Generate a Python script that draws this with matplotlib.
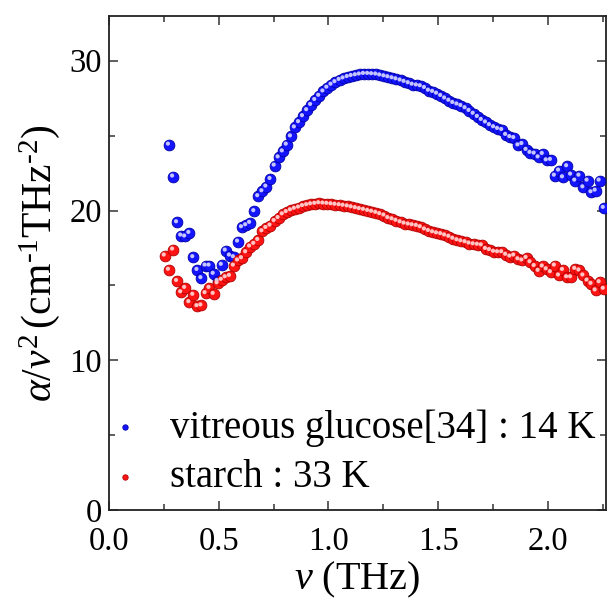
import matplotlib
matplotlib.use("Agg")
import matplotlib.pyplot as plt
import matplotlib.transforms as mtransforms
from matplotlib.ticker import MultipleLocator, FormatStrFormatter

plt.rcParams['font.family'] = ['Liberation Serif', 'DejaVu Serif']
plt.rcParams['mathtext.fontset'] = 'custom'
plt.rcParams['mathtext.rm'] = 'Liberation Serif'
plt.rcParams['mathtext.it'] = 'Liberation Serif:italic'
plt.rcParams['mathtext.bf'] = 'Liberation Serif:bold'

# ---------------- data ----------------
freq_starch = [
    0.254, 0.273, 0.292, 0.310, 0.329, 0.347, 0.366, 0.384, 0.403, 0.421,
    0.440, 0.458, 0.477, 0.495, 0.514, 0.532, 0.551, 0.569, 0.588, 0.606,
    0.625, 0.643, 0.662, 0.680, 0.699, 0.717, 0.736, 0.755, 0.773, 0.792,
    0.810, 0.829, 0.847, 0.866, 0.884, 0.903, 0.921, 0.940, 0.958, 0.977,
    0.995, 1.014, 1.032, 1.051, 1.069, 1.088, 1.106, 1.125, 1.143, 1.162,
    1.181, 1.199, 1.218, 1.236, 1.255, 1.273, 1.292, 1.310, 1.329, 1.347,
    1.366, 1.384, 1.403, 1.421, 1.440, 1.458, 1.477, 1.495, 1.514, 1.532,
    1.551, 1.569, 1.588, 1.606, 1.625, 1.643, 1.662, 1.681, 1.699, 1.718,
    1.736, 1.755, 1.773, 1.792, 1.810, 1.829, 1.847, 1.866, 1.884, 1.903,
    1.921, 1.940, 1.958, 1.977, 1.995, 2.014, 2.032, 2.051, 2.069, 2.088,
    2.106, 2.125, 2.144, 2.162, 2.181, 2.199, 2.218, 2.236, 2.255,
]
alpha_starch = [
    17.00, 16.05, 17.40, 15.30, 14.55, 14.84, 13.89, 14.38, 13.62, 13.67,
    14.49, 14.84, 14.44, 15.15, 15.38, 15.55, 15.64, 16.33, 16.67, 16.82,
    17.22, 17.60, 17.78, 18.04, 18.62, 18.84, 19.00, 19.30, 19.50, 19.75,
    19.90, 20.02, 20.12, 20.20, 20.30, 20.36, 20.42, 20.45, 20.49, 20.47,
    20.45, 20.42, 20.39, 20.36, 20.32, 20.28, 20.22, 20.16, 20.10, 20.05,
    19.98, 19.92, 19.85, 19.76, 19.67, 19.50, 19.42, 19.32, 19.22, 19.13,
    19.07, 19.02, 18.98, 18.89, 18.74, 18.64, 18.55, 18.48, 18.43, 18.34,
    18.25, 18.12, 18.02, 17.95, 17.89, 17.80, 17.75, 17.72, 17.68, 17.44,
    17.36, 17.25, 17.22, 17.22, 17.05, 16.93, 17.00, 16.75, 16.67, 16.84,
    16.55, 16.30, 15.98, 16.27, 16.08, 15.89, 16.33, 15.67, 16.04, 15.55,
    15.55, 16.11, 16.00, 15.67, 15.33, 15.11, 14.67, 15.22, 14.78,
]

freq_glucose = [
    0.273, 0.292, 0.310, 0.329, 0.347, 0.366, 0.384, 0.403, 0.421,
    0.440, 0.458, 0.477, 0.495, 0.514, 0.532, 0.551, 0.569, 0.588, 0.606,
    0.625, 0.643, 0.662, 0.680, 0.699, 0.717, 0.736, 0.755, 0.773, 0.792,
    0.810, 0.829, 0.847, 0.866, 0.884, 0.903, 0.921, 0.940, 0.958, 0.977,
    0.995, 1.014, 1.032, 1.051, 1.069, 1.088, 1.106, 1.125, 1.143, 1.162,
    1.181, 1.199, 1.218, 1.236, 1.255, 1.273, 1.292, 1.310, 1.329, 1.347,
    1.366, 1.384, 1.403, 1.421, 1.440, 1.458, 1.477, 1.495, 1.514, 1.532,
    1.551, 1.569, 1.588, 1.606, 1.625, 1.643, 1.662, 1.681, 1.699, 1.718,
    1.736, 1.755, 1.773, 1.792, 1.810, 1.829, 1.847, 1.866, 1.884, 1.903,
    1.921, 1.940, 1.958, 1.977, 1.995, 2.014, 2.032, 2.051, 2.069, 2.088,
    2.106, 2.125, 2.144, 2.162, 2.181, 2.199, 2.218, 2.236, 2.255,
]
alpha_glucose = [
    24.40, 22.27, 19.22, 18.33, 18.27, 18.51, 16.89, 16.04, 15.49,
    16.33, 16.33, 15.78, 15.30, 16.38, 17.33, 17.00, 16.89, 17.93, 18.89,
    19.02, 19.18, 19.96, 20.96, 21.29, 21.60, 22.11, 23.00, 23.55, 23.95,
    24.40, 24.95, 25.55, 25.90, 26.30, 26.70, 27.05, 27.38, 27.66, 27.95,
    28.20, 28.40, 28.57, 28.72, 28.82, 28.91, 28.98, 29.03, 29.08, 29.12,
    29.12, 29.10, 29.08, 29.02, 28.96, 28.90, 28.83, 28.76, 28.68, 28.59,
    28.50, 28.40, 28.35, 28.30, 28.18, 28.00, 27.92, 27.80, 27.65, 27.48,
    27.33, 27.18, 27.08, 26.98, 26.83, 26.65, 26.46, 26.25, 26.05, 25.88,
    25.70, 25.56, 25.45, 25.38, 25.05, 24.90, 24.84, 24.35, 24.44, 24.05,
    23.85, 23.80, 23.55, 23.78, 23.35, 23.38, 22.33, 22.67, 22.22, 22.96,
    22.40, 22.00, 22.33, 21.55, 22.00, 21.22, 21.33, 22.00, 20.18,
]

label_glucose = "vitreous glucose[34] : 14 K"
label_starch = "starch : 33 K"
xticks = [0.0, 0.5, 1.0, 1.5, 2.0]
yticks = [0, 10, 20, 30]

# ---------------- figure ----------------
fig = plt.figure(figsize=(6.09, 6.06), dpi=100)
ax = fig.add_axes([0.179, 0.158, 0.816, 0.816])

hl_off = mtransforms.offset_copy(ax.transData, fig=fig, x=-1.0, y=1.0, units='dots')


def spheres(x, y, base, edge, light, label):
    h = ax.scatter(x, y, s=60, c=base, edgecolors=edge, linewidths=0.6,
                   zorder=3, label=label)
    ax.scatter(x, y, s=9, c=light, edgecolors='none', zorder=4,
               transform=hl_off)
    return h


h1 = spheres(freq_glucose, alpha_glucose, '#1414ff', '#0000a8', '#c4c4ff', label_glucose)
h2 = spheres(freq_starch, alpha_starch, '#ff1414', '#b00000', '#ffc4c4', label_starch)

ax.set_xlim(0.0, 2.265)
ax.set_ylim(0, 33)
ax.set_xticks(xticks)
ax.set_yticks(yticks)
ax.xaxis.set_major_formatter(FormatStrFormatter('%.1f'))
ax.xaxis.set_minor_locator(MultipleLocator(0.25))
ax.yaxis.set_minor_locator(MultipleLocator(5))

ax.tick_params(which='both', direction='in', top=True, right=True,
               labelsize=23.5, width=1.1, color='#333333')
ax.tick_params(which='major', length=6.5)
ax.tick_params(axis='x', which='major', pad=12)
ax.tick_params(axis='y', which='major', pad=5)
ax.tick_params(which='minor', length=4)
for sp in ax.spines.values():
    sp.set_linewidth(1.3)
    sp.set_color('#222222')

ax.set_xlabel(r'$\nu$ (THz)', fontsize=29, labelpad=2)
ax.set_ylabel(r'$\alpha/\nu^2\,$(cm$^{\text{-}1}$THz$^{\text{-}2}$)', fontsize=30, labelpad=5)

leg = ax.legend(handles=[h1, h2], loc='lower left', bbox_to_anchor=(0.0087, 0.028),
                frameon=False, fontsize=28, handlelength=0.6, handletextpad=0.86,
                borderpad=0, borderaxespad=0, labelspacing=0.33, markerscale=0.5)

fig.savefig('out.png', dpi=100)
